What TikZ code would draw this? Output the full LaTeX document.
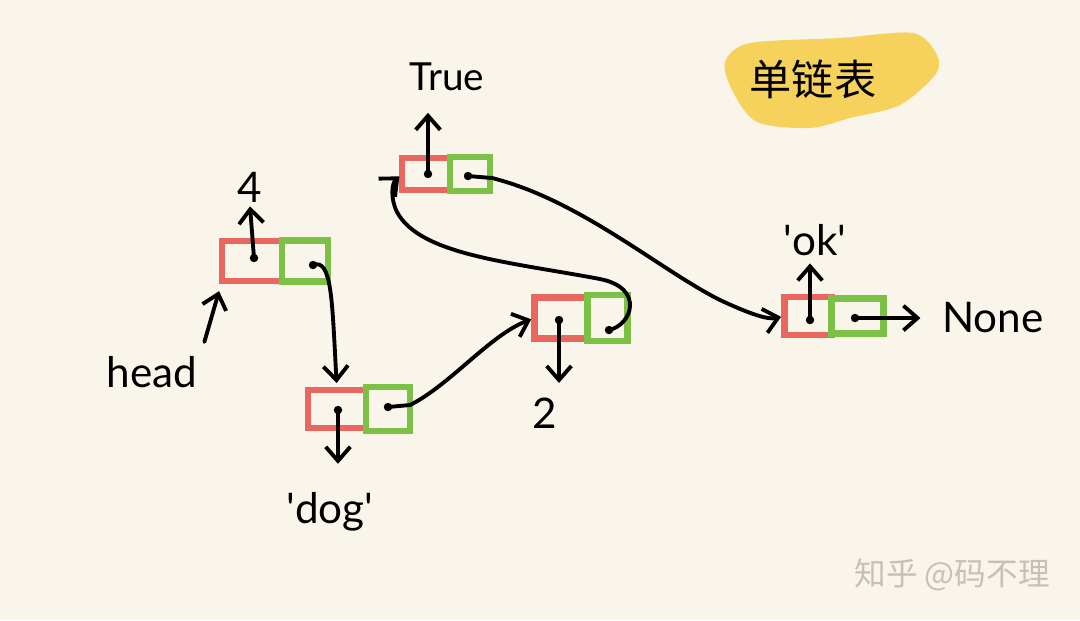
\documentclass[tikz,border=0pt]{standalone}
\usepackage{fontspec}
\setmainfont{Lato}
\newfontfamily\cjk{Noto Sans CJK SC}
\usetikzlibrary{arrows.meta}
\definecolor{bgpaper}{HTML}{F9F5EA}
\definecolor{boxred}{HTML}{E8675E}
\definecolor{boxgreen}{HTML}{7CC146}
\definecolor{hilite}{HTML}{F6D25C}
\definecolor{stamp}{HTML}{C6C1B6}
\tikzset{
  val/.style={draw=boxred,line width=1.8pt,inner sep=0pt,outer sep=0pt},
  nxt/.style={draw=boxgreen,line width=1.8pt,inner sep=0pt,outer sep=0pt,anchor=west},
  ink/.style={black,line width=1.1pt,line cap=round},
  headed/.style={-{Straight Barb[length=4pt,width=7pt]}},
  hand/.style={inner sep=1pt,font=\fontsize{12}{14}\selectfont},
}
\def\dink{\draw[ink]}
\def\knob#1{\fill (#1) circle (1.2pt);}

\begin{document}
\begin{tikzpicture}[x=0.01cm,y=-0.01cm]
\fill[bgpaper] (0,0) rectangle (1080,620);
\useasboundingbox (0,0) rectangle (1080,620);
% title
\fill[hilite] plot[smooth cycle,tension=0.5] coordinates {(725,62) (750,43) (840,38) (913,33) (937,55) (935,75) (900,105) (850,118) (810,128) (757,122) (733,92)};
\node[font=\cjk\fontsize{12}{14}\selectfont] (title) at (813,79) {单链表};

% cells
\node[val,minimum width=0.60cm,minimum height=0.40cm] (v4) at (252,261) {};
\node[nxt,minimum width=0.46cm,minimum height=0.41cm] (n4) at (v4.east) {};
\node[val,minimum width=0.58cm,minimum height=0.38cm] (vdog) at (337,409) {};
\node[nxt,minimum width=0.44cm,minimum height=0.44cm] (ndog) at (vdog.east) {};
\node[val,minimum width=0.53cm,minimum height=0.41cm] (v2) at (561,318) {};
\node[nxt,minimum width=0.40cm,minimum height=0.46cm] (n2) at (v2.east) {};
\node[val,minimum width=0.48cm,minimum height=0.32cm] (vT) at (426,174) {};
\node[nxt,minimum width=0.40cm,minimum height=0.34cm] (nT) at (vT.east) {};
\node[val,minimum width=0.47cm,minimum height=0.38cm] (vok) at (808,316) {};
\node[nxt,minimum width=0.52cm,minimum height=0.35cm] (nok) at (vok.east) {};

\coordinate (d4) at (254,258);   \coordinate (p4) at (313,265);
\coordinate (ddog) at (338,410); \coordinate (pdog) at (388,407);
\coordinate (d2) at (559,320);   \coordinate (p2) at (609,330);
\coordinate (dT) at (428,174);   \coordinate (pT) at (468,176);
\coordinate (dok) at (810,320);  \coordinate (pok) at (855,318);
\foreach \p in {d4,p4,ddog,pdog,d2,p2,dT,pT,dok,pok} {\knob{\p}}

% labels
\node[hand] (l4) at (250,187) {4};
\node[hand] (ldog) at (330,512) {\textquotesingle dog\textquotesingle};
\node[hand] (l2) at (545,413) {2};
\node[hand,font=\fontsize{11}{13}\selectfont] (lT) at (447,77) {True};
\node[hand] (lok) at (815,240) {\textquotesingle ok\textquotesingle};
\node[hand,anchor=west] (none) at (938,318) {None};
\node[hand] (head) at (152,372) {head};

% values
\dink[headed] (d4) -- (l4.south);
\dink[headed,shorten >=7pt] (ddog) -- (ddog |- ldog.north);
\dink[headed,shorten >=3pt] (d2) -- (d2 |- l2.north);
\dink[headed,shorten >=5pt] (dT) -- (dT |- lT.south);
\dink[headed,shorten >=1pt] (dok) -- (dok |- lok.south);

% links
\dink[headed,shorten <=3pt,shorten >=3pt] (head.north east) -- (v4.south west);
\dink[headed,shorten >=2pt] (p4) .. controls (332,258) and (332,300) .. (vdog.north);
\dink[headed,shorten >=1pt] (pdog) -- (410,405) .. controls (450,385) and (490,335) .. (v2.west);
\dink[headed,shorten >=1pt] (p2) .. controls (632,325) and (645,288) .. (600,279) .. controls (510,262) and (420,255) .. (397,212) .. controls (390,198) and (392,183) .. (vT.west);
\dink[headed,shorten >=1pt] (pT) -- (492,178) .. controls (580,200) and (660,270) .. (720,300) .. controls (750,314) and (768,320) .. (vok.west);
\dink[headed,shorten >=5pt] (pok) -- (none.west);

\node[text=stamp,font=\cjk\fontsize{9}{11}\selectfont] (wm) at (952,575) {知乎 @码不理};
\end{tikzpicture}
\end{document}
